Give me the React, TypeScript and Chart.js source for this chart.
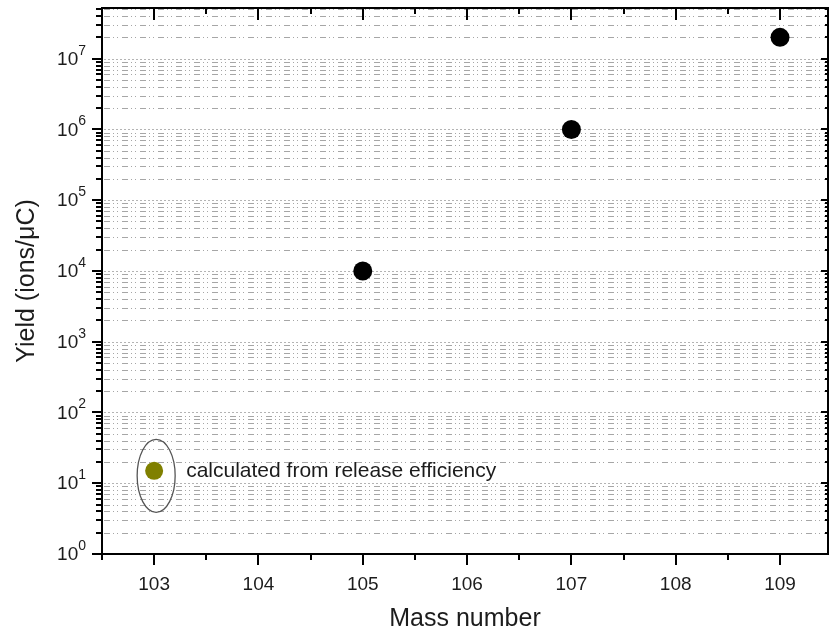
import React, { useEffect, useRef } from 'react';
import { Chart, registerables } from 'chart.js';

Chart.register(...registerables);

// ---- data ----
const measuredMass = [105, 107, 109];
const measuredYield = [1e4, 1e6, 2e7];
const calculatedMass = [103];
const calculatedYield = [15];
const annotationText = 'calculated from release efficiency';

// ---- axes ----
const xMin = 102.5;
const xMax = 109.46;
const xMajorTicks = [103, 104, 105, 106, 107, 108, 109];
const xMinorTicks = [102.5, 103.5, 104.5, 105.5, 106.5, 107.5, 108.5];
const yMin = 1;
const yMax = 5.2e7;
const yDecades = [1, 10, 100, 1e3, 1e4, 1e5, 1e6, 1e7];
const yMantissas = [1, 2, 3, 4, 5, 6, 7, 8, 9];

const FONT = "'Liberation Sans', Arial, sans-serif";
const TEXT = '#1c1c1c';

const yTickValues: number[] = [];
yDecades.forEach((d) => yMantissas.forEach((m) => {
  const v = m * d;
  if (v >= yMin && v <= yMax) yTickValues.push(v);
}));

const isPow10 = (v: number) => {
  const l = Math.log10(v);
  return Math.abs(l - Math.round(l)) < 1e-9;
};

const zeroPad = (s: any) => {
  s.paddingTop = 0;
  s.paddingBottom = 0;
  s.paddingLeft = 0;
  s.paddingRight = 0;
};

const framePlugin = {
  id: 'framePlugin',
  beforeDatasetsDraw(chart: any) {
    const { ctx, chartArea, scales } = chart;
    const { left, right, top, bottom } = chartArea;
    const y = scales.y;
    ctx.save();
    ctx.beginPath();
    ctx.rect(left, top, right - left, bottom - top);
    ctx.clip();
    ctx.lineWidth = 1;
    for (const v of yTickValues) {
      if (v <= yMin || v >= yMax) continue;
      const py = Math.round(y.getPixelForValue(v)) + 0.5;
      const major = isPow10(v);
      ctx.setLineDash(major ? [2, 2] : [6, 3, 1, 3, 1, 4]);
      ctx.strokeStyle = major ? '#b4b4b4' : '#a6a6a6';
      ctx.beginPath();
      ctx.moveTo(left + 2, py);
      ctx.lineTo(right - 2, py);
      ctx.stroke();
    }
    ctx.restore();
  },
  afterDatasetsDraw(chart: any) {
    const { ctx, chartArea, scales } = chart;
    const { left, right, top, bottom } = chartArea;
    const x = scales.x;
    const y = scales.y;
    ctx.save();
    // frame
    ctx.setLineDash([]);
    ctx.strokeStyle = '#000';
    ctx.lineWidth = 2;
    ctx.strokeRect(left, top, right - left, bottom - top);
    // x ticks
    ctx.beginPath();
    for (const v of xMajorTicks) {
      const px = Math.round(x.getPixelForValue(v));
      ctx.moveTo(px, bottom); ctx.lineTo(px, bottom + 11);
      ctx.moveTo(px, top); ctx.lineTo(px, top + 12);
    }
    for (const v of xMinorTicks) {
      const px = Math.round(x.getPixelForValue(v));
      ctx.moveTo(px, bottom); ctx.lineTo(px, bottom + 6);
      ctx.moveTo(px, top); ctx.lineTo(px, top + 6);
    }
    // y ticks
    for (const v of yTickValues) {
      const py = Math.round(y.getPixelForValue(v));
      const major = isPow10(v);
      ctx.moveTo(left - (major ? 10 : 6), py); ctx.lineTo(left, py);
      ctx.moveTo(right, py); ctx.lineTo(right - (major ? 7 : 3), py);
    }
    ctx.stroke();

    // y tick labels: 10 with superscript exponent
    ctx.fillStyle = TEXT;
    ctx.textBaseline = 'middle';
    for (const v of yTickValues) {
      if (!isPow10(v)) continue;
      const e = String(Math.round(Math.log10(v)));
      const py = y.getPixelForValue(v);
      ctx.font = `14px ${FONT}`;
      const ew = ctx.measureText(e).width;
      ctx.textAlign = 'right';
      ctx.fillText(e, left - 16, py - 8);
      ctx.font = `19px ${FONT}`;
      ctx.fillText('10', left - 16 - ew, py + 1);
    }

    // ellipse around calculated point + annotation text
    const cx = x.getPixelForValue(calculatedMass[0]);
    const cy = y.getPixelForValue(calculatedYield[0]);
    ctx.lineWidth = 1.3;
    ctx.strokeStyle = '#555';
    ctx.beginPath();
    ctx.ellipse(cx + 2, cy + 5, 19, 36.5, 0, 0, Math.PI * 2);
    ctx.stroke();
    ctx.fillStyle = TEXT;
    ctx.font = `21px ${FONT}`;
    ctx.textBaseline = 'middle';
    ctx.textAlign = 'left';
    ctx.fillText(annotationText, cx + 32, cy);
    ctx.restore();
  },
};

export default function App() {
  const ref = useRef<HTMLCanvasElement | null>(null);
  useEffect(() => {
    if (!ref.current) return;
    const chart = new Chart(ref.current, {
      type: 'scatter',
      data: {
        datasets: [
          {
            label: 'measured',
            data: measuredMass.map((m, i) => ({ x: m, y: measuredYield[i] })),
            backgroundColor: '#000',
            borderWidth: 0,
            pointRadius: 9.5,
          },
          {
            label: annotationText,
            data: calculatedMass.map((m, i) => ({ x: m, y: calculatedYield[i] })),
            backgroundColor: '#808000',
            borderWidth: 0,
            pointRadius: 9,
          },
        ],
      },
      options: {
        animation: false,
        responsive: false,
        layout: { autoPadding: false, padding: { top: 8, right: 1, left: 0, bottom: 0 } },
        plugins: { legend: { display: false }, tooltip: { enabled: false } },
        scales: {
          x: {
            type: 'linear',
            min: xMin,
            max: xMax,
            grid: { display: false },
            border: { display: false },
            afterBuildTicks: (s: any) => { s.ticks = xMajorTicks.map((v) => ({ value: v })); },
            afterFit: (s: any) => { s.height = 80; zeroPad(s); },
            ticks: {
              autoSkip: false,
              maxRotation: 0,
              padding: 11,
              color: TEXT,
              font: { family: FONT, size: 19 },
              callback: (v: any) => String(v),
            },
            title: {
              display: true,
              text: 'Mass number',
              color: TEXT,
              font: { family: FONT, size: 25 },
              padding: { top: 0, bottom: 0 },
            },
          },
          y: {
            type: 'logarithmic',
            min: yMin,
            max: yMax,
            grid: { display: false },
            border: { display: false },
            afterBuildTicks: (s: any) => { s.ticks = yTickValues.map((v) => ({ value: v })); },
            afterFit: (s: any) => { s.width = 102; zeroPad(s); },
            ticks: {
              autoSkip: false,
              padding: 16,
              display: false,
            },
            title: {
              display: true,
              text: 'Yield (ions/μC)',
              color: TEXT,
              font: { family: FONT, size: 25 },
              padding: { top: 12, bottom: 0 },
            },
          },
        },
      },
      plugins: [framePlugin],
    } as any);
    return () => chart.destroy();
  }, []);
  return (
    <div style={{ position: 'absolute', left: 0, top: 0, width: 829, height: 634, background: '#fff' }}>
      <canvas ref={ref} width={829} height={634} style={{ display: 'block' }} />
    </div>
  );
}
